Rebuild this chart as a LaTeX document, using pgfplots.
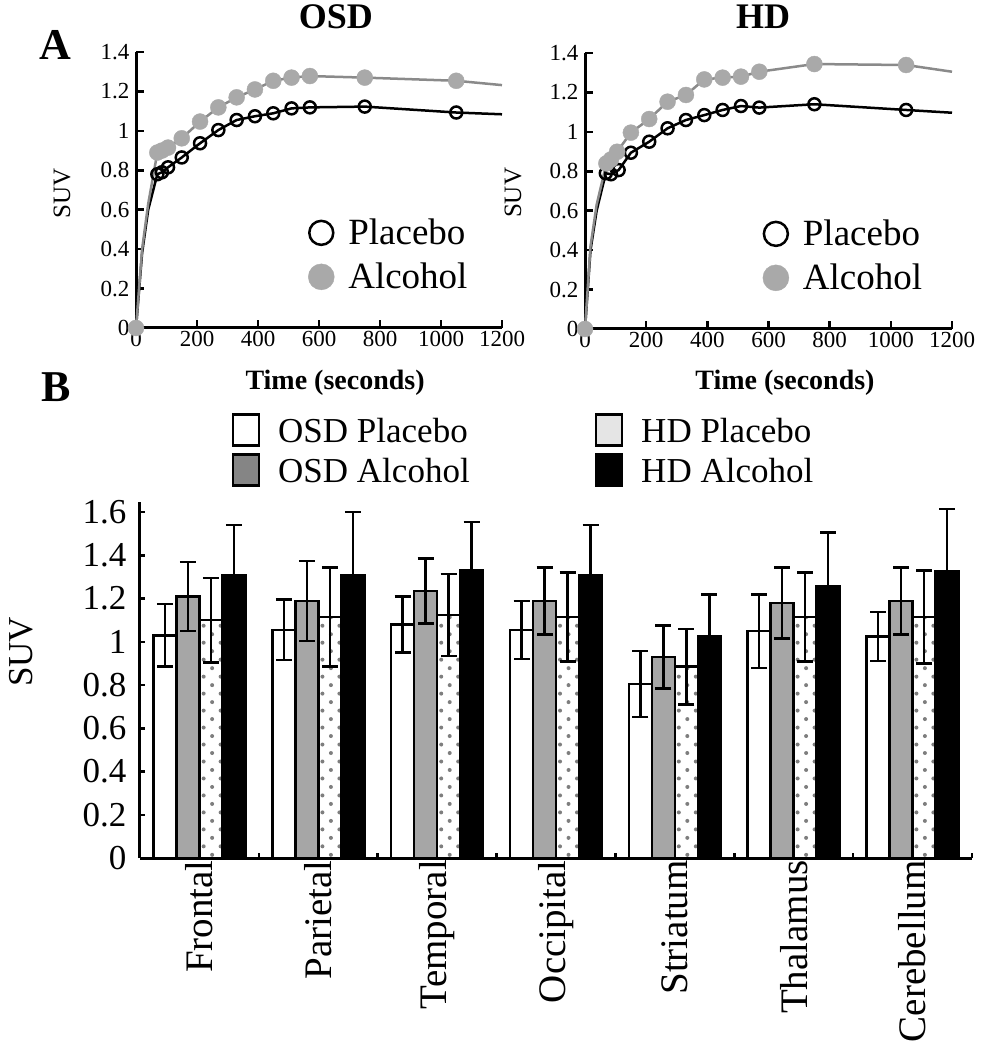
\documentclass[border=0pt]{standalone}
\usepackage{fontspec}
\setmainfont{Liberation Serif}
\usepackage{pgfplots}
\pgfplotsset{compat=1.18}
\usepackage{pgfplotstable}
\usetikzlibrary{patterns.meta}

\definecolor{bargray}{HTML}{A6A6A6}
\definecolor{keygray}{HTML}{858585}
\definecolor{dotgray}{HTML}{7E7E7E}
\definecolor{alcline}{HTML}{8A8A8A}
\definecolor{alcmark}{HTML}{A9A9A9}

% regional SUV: mean and error for each group
\pgfplotstableread{
idx op    ope   oa    oae   hp    hpe   ha    hae
0   1.03  0.145 1.21  0.16  1.10  0.195 1.31  0.23
1   1.055 0.14  1.19  0.185 1.115 0.23  1.31  0.29
2   1.08  0.13  1.235 0.15  1.125 0.19  1.33  0.225
3   1.055 0.135 1.19  0.155 1.115 0.205 1.31  0.23
4   0.805 0.152 0.93  0.146 0.885 0.175 1.025 0.195
5   1.05  0.17  1.18  0.165 1.115 0.205 1.255 0.25
6   1.025 0.113 1.19  0.155 1.115 0.215 1.325 0.29
}\bardata

\pgfplotsset{
  curve/.style={
    scale only axis, width=366pt, height=276pt,
    xmin=0, xmax=1200, ymin=0, ymax=1.4,
    axis lines=left, axis line style={-, line width=3pt},
    tick align=inside, major tick length=8pt, tick style={line width=2.5pt, black},
    xtick={0,200,...,1200}, ytick={0,0.2,0.4,0.6,0.8,1,1.2,1.4},
    ticklabel style={font=\fontsize{23}{25}\selectfont},
    /pgf/number format/assume math mode=true,
    /pgf/number format/1000 sep={},
    yticklabel style={xshift=-3pt},
    clip=false,
    xlabel={\textbf{Time (seconds)}},
    xlabel style={font=\fontsize{28}{30}\selectfont, anchor=center},
    ylabel={SUV},
    ylabel style={font=\fontsize{25}{27}\selectfont, anchor=center},
    title style={font=\fontsize{36}{38}\selectfont\bfseries, anchor=center, inner sep=0pt},
    legend style={draw=none, fill=none, anchor=west, font=\fontsize{37}{39}\selectfont,
      cells={anchor=west}, nodes={inner sep=1pt},
      /tikz/every odd column/.append style={column sep=13pt}},
    legend image code/.code={\path[draw=none, fill=none] (0pt,-22pt) rectangle (24pt,22pt);
      \draw[#1] plot coordinates {(12pt,0pt)};},
  },
  plac line/.style={black, line width=2.5pt, no marks},
  plac mark/.style={only marks, mark=o, mark size=6pt, line width=2.5pt, black, mark options={fill=white}},
  alc line/.style={alcline, line width=2.5pt, no marks},
  alc mark/.style={only marks, mark=*, mark size=8pt, mark options={fill=alcmark, draw=alcmark}},
  errb/.style={error bars/y dir=both, error bars/y explicit,
    error bars/error bar style={line width=2.5pt, black},
    error bars/error mark options={rotate=90, mark size=8pt, line width=2.5pt, black}},
  key box/.style={legend image code/.code={\path[draw=none, fill=none] (0pt,-20pt) rectangle (26pt,20pt);
      \draw[line width=2.5pt, draw=black, #1] (0pt,-14pt) rectangle (26pt,17pt);}},
}

\begin{document}
\begin{tikzpicture}
\useasboundingbox (0,0) rectangle (987pt,1050pt);

% ---- A: OSD ----
\begin{axis}[curve, at={(136pt,722pt)}, anchor=south west,
  title={OSD}, title style={at={(axis description cs:0.546,1.107)}},
  xlabel style={at={(axis description cs:0.544,-0.199)}},
  ylabel style={at={(axis description cs:-0.202,0.489)}},
  legend style={at={(axis description cs:0.462,0.265)}}]
\addplot[plac line, forget plot] coordinates {(0,0)(20,0.38)(40,0.6)(70,0.78)(85,0.79)(105,0.815)(150,0.865)(210,0.937)(270,1.004)(330,1.055)(390,1.074)(450,1.089)(510,1.114)(570,1.119)(750,1.123)(1050,1.093)(1200,1.084)};
\addplot[alc line, forget plot] coordinates {(0,0)(20,0.4)(40,0.63)(70,0.89)(85,0.9)(105,0.915)(150,0.962)(210,1.047)(270,1.119)(330,1.17)(390,1.21)(450,1.254)(510,1.27)(570,1.278)(750,1.27)(1050,1.254)(1200,1.232)};
\addplot[plac mark, forget plot] coordinates {(0,0)(70,0.78)(85,0.79)(105,0.815)(150,0.865)(210,0.937)(270,1.004)(330,1.055)(390,1.074)(450,1.089)(510,1.114)(570,1.119)(750,1.123)(1050,1.093)};
\addplot[alc mark, forget plot] coordinates {(0,0)(70,0.89)(85,0.9)(105,0.915)(150,0.962)(210,1.047)(270,1.119)(330,1.17)(390,1.21)(450,1.254)(510,1.27)(570,1.278)(750,1.27)(1050,1.254)};
\addlegendimage{only marks, mark=o, mark size=12pt, line width=2.5pt, black, mark options={fill=white}}
\addlegendentry{Placebo}
\addlegendimage{only marks, mark=*, mark size=13pt, mark options={fill=alcmark, draw=alcmark}}
\addlegendentry{Alcohol}
\node[font=\fontsize{44}{46}\selectfont\bfseries] at (axis description cs:-0.221,1.025) {A};
\node[font=\fontsize{44}{46}\selectfont\bfseries] at (axis description cs:-0.218,-0.214) {B};
\end{axis}

% ---- A: HD ----
\begin{axis}[curve, at={(585pt,721pt)}, anchor=south west, width=367pt,
  title={HD}, title style={at={(axis description cs:0.485,1.110)}},
  xlabel style={at={(axis description cs:0.545,-0.196)}},
  ylabel style={at={(axis description cs:-0.196,0.493)}},
  legend style={at={(axis description cs:0.476,0.265)}}]
\addplot[plac line, forget plot] coordinates {(0,0)(18,0.4)(38,0.6)(68,0.79)(85,0.785)(110,0.806)(150,0.894)(210,0.95)(270,1.018)(330,1.06)(390,1.085)(450,1.111)(510,1.131)(570,1.123)(750,1.14)(1050,1.111)(1200,1.097)};
\addplot[alc line, forget plot] coordinates {(0,0)(18,0.42)(38,0.63)(70,0.84)(85,0.86)(105,0.899)(150,0.996)(210,1.065)(270,1.153)(330,1.187)(390,1.266)(450,1.275)(510,1.28)(570,1.305)(750,1.344)(1050,1.339)(1200,1.305)};
\addplot[plac mark, forget plot] coordinates {(0,0)(68,0.79)(85,0.785)(110,0.806)(150,0.894)(210,0.95)(270,1.018)(330,1.06)(390,1.085)(450,1.111)(510,1.131)(570,1.123)(750,1.14)(1050,1.111)};
\addplot[alc mark, forget plot] coordinates {(0,0)(70,0.84)(85,0.86)(105,0.899)(150,0.996)(210,1.065)(270,1.153)(330,1.187)(390,1.266)(450,1.275)(510,1.28)(570,1.305)(750,1.344)(1050,1.339)};
\addlegendimage{only marks, mark=o, mark size=12pt, line width=2.5pt, black, mark options={fill=white}}
\addlegendentry{Placebo}
\addlegendimage{only marks, mark=*, mark size=13pt, mark options={fill=alcmark, draw=alcmark}}
\addlegendentry{Alcohol}
\end{axis}

% ---- B: regional bars ----
\begin{axis}[at={(140pt,192pt)}, anchor=south west, scale only axis,
  width=832pt, height=356pt,
  ybar=0pt, bar width=23pt,
  xmin=-0.5, xmax=6.5, ymin=0, ymax=1.647,
  axis lines=left, axis line style={-, line width=3pt},
  tick align=inside, tick style={line width=2.5pt, black},
  xtick={0,...,6},
  xticklabels={Frontal,Parietal,Temporal,Occipital,Striatum,Thalamus,Cerebellum},
  major x tick style={draw=none},
  minor xtick={0.5,1.5,2.5,3.5,4.5,5.5,6.5}, minor tick length=5pt,
  ytick={0,0.2,0.4,0.6,0.8,1,1.2,1.4,1.6}, major tick length=5pt,
  xticklabel style={rotate=90, anchor=east, inner sep=2pt, font=\fontsize{39}{41}\selectfont},
  yticklabel style={font=\fontsize{35}{37}\selectfont, xshift=-10pt},
  /pgf/number format/assume math mode=true,
  ylabel={SUV},
  ylabel style={font=\fontsize{35}{37}\selectfont, at={(axis description cs:-0.143,0.579)}, anchor=center},
  legend columns=2,
  legend style={draw=none, fill=none, at={(axis description cs:0.11,1.255)}, anchor=north west,
    font=\fontsize{35}{37}\selectfont, inner sep=0pt, cells={anchor=west},
    nodes={inner sep=1pt},
    /tikz/every odd column/.append style={column sep=17pt},
    /tikz/every even column/.append style={column sep=124pt}},
]
\addlegendimage{key box={fill=white}}
\addlegendentry{OSD Placebo}
\addlegendimage{key box={fill=white!90!black}}
\addlegendentry{HD Placebo}
\addlegendimage{key box={fill=keygray}}
\addlegendentry{OSD Alcohol}
\addlegendimage{key box={fill=black}}
\addlegendentry{HD Alcohol}

\addplot[forget plot, fill=white, draw=black, line width=2.5pt, bar shift=-34.5pt, errb]
  table[x=idx, y=op, y error=ope] {\bardata};
\addplot[forget plot, fill=bargray, draw=black, line width=2.5pt, bar shift=-11.5pt, errb]
  table[x=idx, y=oa, y error=oae] {\bardata};
\addplot[forget plot, pattern={Dots[distance=12pt, angle=45, radius=2pt]}, pattern color=dotgray, draw=black, line width=2.5pt, bar shift=11.5pt, errb]
  table[x=idx, y=hp, y error=hpe] {\bardata};
\addplot[forget plot, fill=black, draw=black, line width=2.5pt, bar shift=34.5pt, errb]
  table[x=idx, y=ha, y error=hae] {\bardata};
\end{axis}
\end{tikzpicture}
\end{document}
